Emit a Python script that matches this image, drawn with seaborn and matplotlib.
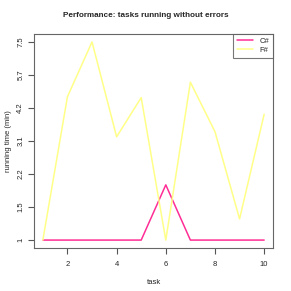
import numpy as np
import pandas as pd
import seaborn as sns
import matplotlib
matplotlib.use('Agg')
import matplotlib.pyplot as plt

# données
tasks = [1, 2, 3, 4, 5, 6, 7, 8, 9, 10]
csharp = [1, 1, 1, 1, 1, 1.97, 1, 1, 1, 1]
fsharp = [1, 4.71, 7.5, 3.24, 4.67, 1, 5.37, 3.41, 1.32, 3.99]
y_ticks = [1, 1.5, 2.2, 3.1, 4.2, 5.7, 7.5]
x_ticks = [2, 4, 6, 8, 10]

data_plot = pd.concat([
    pd.DataFrame({'task': tasks, 'time': csharp, 'lang': 'C#'}),
    pd.DataFrame({'task': tasks, 'time': fsharp, 'lang': 'F#'}),
])

sns.set_style('white')
plt.rcParams['font.family'] = ['Liberation Sans', 'DejaVu Sans']

# axe y : graduations régulièrement espacées (prolongées aux bords)
yv = np.array(y_ticks, dtype=float)
tick_pos = np.arange(len(yv), dtype=float)
yv_ext = np.concatenate([[yv[0] - (yv[1] - yv[0])], yv, [yv[-1] + (yv[-1] - yv[-2])]])
pos_ext = np.concatenate([[-1.0], tick_pos, [tick_pos[-1] + 1]])


def fwd(v):
    return np.interp(v, yv_ext, pos_ext)


def inv(p):
    return np.interp(p, pos_ext, yv_ext)


fig = plt.figure(figsize=(2.91, 2.91), dpi=100)
ax = fig.add_axes([34 / 291, 1 - 248 / 291, 239 / 291, 214 / 291])
ax.set_yscale('function', functions=(fwd, inv))

sns.lineplot(data=data_plot, x='task', y='time', hue='lang',
             palette={'C#': '#ff2d95', 'F#': '#ffff88'}, linewidth=1.1, ax=ax)

ax.set_xlim(0.64, 10.36)
ax.set_ylim(float(inv(-0.24)), float(inv(6.24)))
ax.set_xticks(x_ticks)
ax.set_xticklabels([str(t) for t in x_ticks], size=5.5)
ax.set_yticks(y_ticks)
ax.set_yticklabels([str(t) for t in y_ticks], size=5.5, rotation=90, va='center')
ax.minorticks_off()
ax.tick_params(axis='both', which='major', direction='out', length=4, width=0.8,
               color='#555555', pad=3, left=True, bottom=True)
ax.tick_params(axis='x', pad=5)
ax.set_xlabel('task', size=5.5, labelpad=8)
ax.set_ylabel('running time (min)', size=5.5)
ax.yaxis.set_label_coords(-22 / 239, 0.5)
fig.suptitle('Performance: tasks running without errors', size=5.9, weight='bold', y=1 - 12 / 291)
for s in ax.spines.values():
    s.set_color('#666666')
    s.set_linewidth(0.8)

leg = ax.legend(loc='upper right', fontsize=5.5, frameon=True, fancybox=False,
                borderaxespad=0, handlelength=2.2, borderpad=0.5, labelspacing=0.2)
leg.get_frame().set_edgecolor('#555555')
leg.get_frame().set_linewidth(0.8)
leg.set_title(None)

plt.savefig('out.png', dpi=100)
plt.close()
